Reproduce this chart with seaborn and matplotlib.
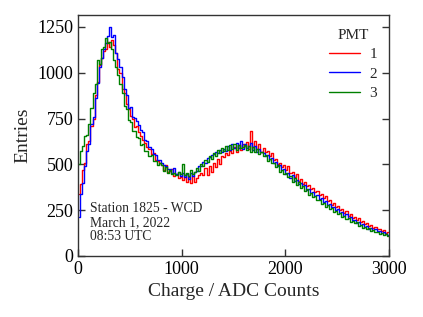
import numpy as np
import pandas as pd
import matplotlib
matplotlib.use("Agg")
import matplotlib.pyplot as plt
import seaborn as sns

# ---- data (bin width 20 ADC, bin centres 10 ... 2990) ----
pmt_labels = ["1", "2", "3"]
pmt_colors = ["#ff0000", "#0000ff", "#008000"]

pmt1 = [
    340, 395, 470, 510, 610, 630, 710, 750, 880, 950,
    1040, 1080, 1120, 1130, 1170, 1140, 1180, 1150, 1110, 1020,
    1000, 910, 890, 830, 800, 765, 745, 705, 710, 675,
    655, 635, 615, 595, 585, 555, 560, 525, 520, 505,
    495, 470, 495, 460, 465, 475, 435, 450, 425, 430,
    415, 440, 405, 430, 400, 435, 405, 425, 440, 455,
    440, 480, 440, 490, 460, 510, 485, 530, 500, 545,
    540, 560, 550, 575, 560, 595, 570, 605, 580, 610,
    600, 620, 585, 680, 595, 625, 585, 610, 570, 590,
    565, 575, 545, 560, 525, 530, 500, 510, 485, 495,
    470, 490, 455, 460, 430, 445, 410, 420, 395, 405,
    380, 390, 365, 370, 350, 355, 335, 340, 315, 325,
    300, 305, 280, 290, 265, 275, 250, 258, 235, 245,
    220, 230, 210, 215, 195, 205, 185, 192, 175, 180,
    165, 170, 155, 160, 145, 150, 135, 140, 128, 130,
]
pmt2 = [
    215, 340, 400, 490, 575, 610, 720, 760, 860, 945,
    1030, 1080, 1130, 1160, 1200, 1250, 1195, 1205, 1110, 1075,
    1030, 975, 910, 880, 810, 815, 760, 755, 735, 715,
    685, 675, 635, 625, 595, 585, 555, 550, 525, 525,
    510, 495, 490, 475, 475, 455, 480, 445, 460, 435,
    455, 430, 450, 420, 455, 435, 460, 465, 490, 490,
    515, 510, 535, 540, 550, 555, 565, 560, 580, 570,
    585, 575, 600, 580, 610, 590, 615, 590, 625, 585,
    610, 590, 600, 615, 580, 600, 570, 585, 565, 560,
    545, 550, 530, 535, 510, 515, 490, 495, 470, 475,
    450, 455, 425, 440, 410, 415, 395, 400, 380, 385,
    360, 365, 345, 350, 330, 335, 312, 318, 295, 300,
    280, 285, 265, 270, 250, 255, 235, 240, 220, 228,
    205, 212, 195, 198, 182, 186, 170, 175, 160, 165,
    150, 155, 142, 146, 135, 138, 126, 130, 118, 116,
]
pmt3 = [
    500, 575, 600, 655, 660, 720, 810, 890, 940, 1070,
    1050, 1130, 1140, 1190, 1160, 1170, 1130, 1070, 1030, 990,
    940, 890, 820, 800, 740, 730, 680, 680, 650, 645,
    605, 610, 575, 575, 545, 550, 520, 520, 495, 505,
    495, 465, 485, 455, 470, 445, 455, 440, 460, 445,
    500, 440, 455, 435, 470, 445, 460, 480, 465, 500,
    490, 525, 515, 545, 530, 560, 545, 580, 560, 590,
    575, 600, 580, 605, 585, 610, 580, 605, 590, 595,
    605, 580, 600, 570, 595, 565, 585, 555, 570, 545,
    550, 520, 530, 505, 510, 485, 495, 460, 470, 445,
    455, 430, 435, 405, 425, 385, 405, 370, 380, 355,
    365, 335, 345, 320, 325, 305, 308, 285, 290, 265,
    280, 255, 262, 240, 248, 228, 232, 215, 218, 200,
    208, 188, 192, 178, 183, 165, 170, 155, 160, 145,
    152, 138, 142, 130, 132, 122, 125, 115, 118, 110,
]
charge = np.arange(10, 3000, 20)

x_ticks = [0, 1000, 2000, 3000]
y_ticks = [0, 250, 500, 750, 1000, 1250]
note_lines = ["Station 1825 - WCD", "March 1, 2022", "08:53 UTC"]

frames = []
for lab, vals in zip(pmt_labels, [pmt1, pmt2, pmt3]):
    frames.append(pd.DataFrame({"Charge": charge, "Entries": vals, "PMT": lab}))
df = pd.concat(frames, ignore_index=True)

sns.set_theme(style="ticks")
plt.rcParams["font.family"] = ["Liberation Serif", "DejaVu Serif"]

fig = plt.figure(figsize=(4.23, 3.17), dpi=100)
ax = fig.add_axes([78 / 423, 1 - 256 / 317, (389 - 78) / 423, (256 - 15) / 317])

sns.lineplot(data=df, x="Charge", y="Entries", hue="PMT", hue_order=pmt_labels,
             palette=pmt_colors, estimator=None, drawstyle="steps-mid",
             linewidth=1.0, ax=ax, legend=True)

ax.set_xlim(0, 3000)
ax.set_ylim(0, 1315)
ax.set_xticks(x_ticks)
ax.set_yticks(y_ticks)
ax.set_xlabel("Charge / ADC Counts", fontsize=14)
ax.set_ylabel("Entries", fontsize=14)
ax.tick_params(axis="both", direction="in", length=5, width=1, labelsize=13,
               right=True, top=False, colors="#333333", labelcolor="black")
for s in ax.spines.values():
    s.set_color("#333333")
    s.set_linewidth(1.0)

h, l = ax.get_legend_handles_labels()
leg = ax.legend(h, l, title="PMT", frameon=False, loc="upper right",
                bbox_to_anchor=(1.005, 1.0), fontsize=11, title_fontsize=11,
                handlelength=2.0, labelspacing=0.38, handletextpad=0.6)
for line in leg.get_lines():
    line.set_linewidth(1.0)

ax.text(0.04, 0.222, "\n".join(note_lines), transform=ax.transAxes,
        fontsize=9.8, va="top", ha="left", linespacing=1.1)

fig.savefig("out.png", dpi=100)
